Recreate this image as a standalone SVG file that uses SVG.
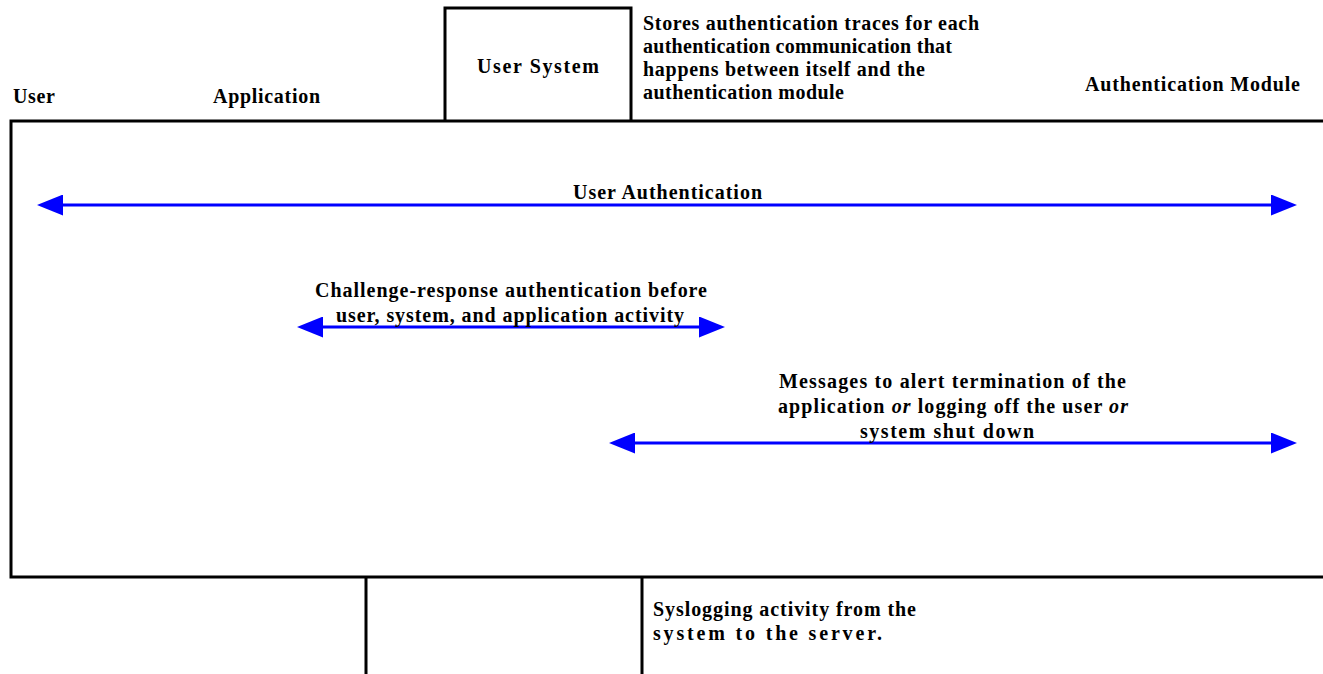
<svg xmlns="http://www.w3.org/2000/svg" width="1323" height="674" viewBox="0 0 1323 674">
  <style>
    .frame { fill: none; stroke: #000; stroke-width: 3; }
    .lbl { font-family: "Liberation Serif", "Times New Roman", serif; font-weight: bold; font-size: 20px; fill: #000; }
    .msg { stroke: #0000ff; stroke-width: 3; fill: none; }
  </style>
  <defs>
    <marker id="head" viewBox="0 0 26 21" refX="0" refY="10.5" markerWidth="26" markerHeight="21" markerUnits="userSpaceOnUse" orient="auto-start-reverse">
      <path d="M0,0 L26,10.5 L0,21 Z" fill="#0000ff"/>
    </marker>
  </defs>
  <rect width="1323" height="674" fill="#fff"/>

  <!-- main communication frame (open to the right) -->
  <g id="frame">
    <path class="frame" d="M1330,121 L11,121 L11,577 L1330,577"/>
  </g>

  <!-- lane headers -->
  <g id="user">
    <text class="lbl" x="13" y="103" textLength="42" lengthAdjust="spacing">User</text>
  </g>
  <g id="application">
    <text class="lbl" x="213" y="103" textLength="107" lengthAdjust="spacing">Application</text>
  </g>
  <g id="user-system">
    <path class="frame" d="M445,121 L445,8 L631,8 L631,121"/>
    <text class="lbl" x="477" y="73" textLength="122" lengthAdjust="spacing">User System</text>
  </g>
  <g id="user-system-note">
    <text class="lbl" x="643" y="30" textLength="336" lengthAdjust="spacing">Stores authentication traces for each</text>
    <text class="lbl" x="643" y="53" textLength="309" lengthAdjust="spacing">authentication communication that</text>
    <text class="lbl" x="643" y="76" textLength="282" lengthAdjust="spacing">happens between itself and the</text>
    <text class="lbl" x="643" y="99" textLength="201" lengthAdjust="spacing">authentication module</text>
  </g>
  <g id="authentication-module">
    <text class="lbl" x="1085" y="91" textLength="215" lengthAdjust="spacing">Authentication Module</text>
  </g>

  <!-- syslog server lane below the frame -->
  <g id="syslog">
    <path class="frame" d="M366,577 L366,680 M642,577 L642,680"/>
    <text class="lbl" x="653" y="616" textLength="263" lengthAdjust="spacing">Syslogging activity from the</text>
    <text class="lbl" x="653" y="640" textLength="229" lengthAdjust="spacing">system to the server.</text>
  </g>

  <!-- message exchanges -->
  <g id="connectors">
    <line class="msg" x1="63" y1="205" x2="1271" y2="205" marker-start="url(#head)" marker-end="url(#head)"/>
    <line class="msg" x1="323" y1="327" x2="699" y2="327" marker-start="url(#head)" marker-end="url(#head)"/>
    <line class="msg" x1="635" y1="443" x2="1271" y2="443" marker-start="url(#head)" marker-end="url(#head)"/>
  </g>

  <g id="connector-labels">
    <text class="lbl" x="573" y="199" textLength="189" lengthAdjust="spacing">User Authentication</text>
    <text class="lbl" x="315" y="297" textLength="392" lengthAdjust="spacing">Challenge-response authentication before</text>
    <text class="lbl" x="336" y="322" textLength="348" lengthAdjust="spacing">user, system, and application activity</text>
    <text class="lbl" x="779" y="388" textLength="347" lengthAdjust="spacing">Messages to alert termination of the</text>
    <text class="lbl" x="778" y="413" textLength="350" lengthAdjust="spacing">application <tspan font-style="italic">or</tspan> logging off the user <tspan font-style="italic">or</tspan></text>
    <text class="lbl" x="860" y="438" textLength="174" lengthAdjust="spacing">system shut down</text>
  </g>
</svg>
